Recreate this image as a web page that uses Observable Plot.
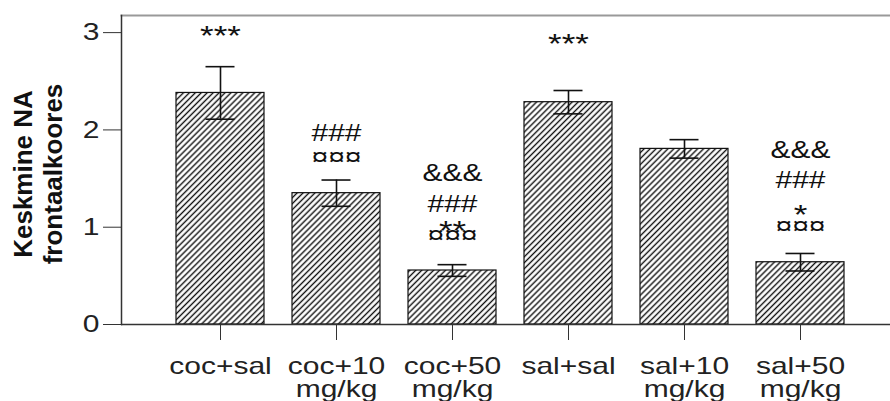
<!DOCTYPE html>
<html><head><meta charset="utf-8">
<script src="https://cdn.jsdelivr.net/npm/d3@7"></script>
<script src="https://cdn.jsdelivr.net/npm/@observablehq/plot@0.6"></script>
<style>body{margin:0;background:#fff}</style>
</head><body><div id="chart"></div>
<script>
// Data
const groups = ["coc+sal", "coc+10\nmg/kg", "coc+50\nmg/kg", "sal+sal", "sal+10\nmg/kg", "sal+50\nmg/kg"];
const means = [2.38, 1.35, 0.555, 2.285, 1.805, 0.64];
const sems = [0.27, 0.135, 0.06, 0.12, 0.095, 0.09];
const yTicks = [0, 1, 2, 3];
const yLabel = "Keskmine NA\nfrontaalkoores";
// significance marks: group index, symbol, level (in y units)
const annGroup = [0, 3, 1, 1, 2, 2, 2, 2, 5, 5, 5, 5];
const annText = ["***", "***", "###", "¤¤¤", "&&&", "###", "**", "¤¤¤", "&&&", "###", "*", "¤¤¤"];
const annLevel = [2.96, 2.88, 1.97, 1.72, 1.55, 1.24, 0.96, 0.92, 1.79, 1.48, 1.13, 1.01];

const table = groups.map((g, i) => ({group: g, mean: means[i], lo: means[i] - sems[i], hi: means[i] + sems[i]}));
const ann = annText.map((t, i) => ({group: groups[annGroup[i]], text: t, level: annLevel[i], star: t.startsWith("*")}));

const svg = Plot.plot({
  width: 890, height: 401,
  marginLeft: 121, marginRight: 0, marginTop: 15, marginBottom: 77,
  style: {fontFamily: "'Liberation Sans', Arial, sans-serif", fontSize: "24px", color: "#222", background: "#fff"},
  x: {domain: groups, range: [159.7, 859.3], paddingInner: 0.245, paddingOuter: 0.1225},
  y: {domain: [0, 3.176]},
  marks: [
    Plot.frame({anchor: "top", stroke: "#999", strokeWidth: 2}),
    Plot.barY(table, {x: "group", y: "mean", fill: "url(#hatch)", stroke: "#111", strokeWidth: 1.2}),
    Plot.ruleX(table, {x: "group", y1: "lo", y2: "hi", stroke: "#111", strokeWidth: 1.6}),
    Plot.tickY(table, {x: "group", y: "hi", insetLeft: 29.5, insetRight: 29.5, stroke: "#111", strokeWidth: 1.6}),
    Plot.tickY(table, {x: "group", y: "lo", insetLeft: 29.5, insetRight: 29.5, stroke: "#111", strokeWidth: 1.6}),
    Plot.text(ann.filter(d => !d.star), {x: "group", y: "level", text: "text", fontSize: 24, fill: "#111"}),
    Plot.text(ann.filter(d => d.star), {x: "group", y: "level", text: "text", fontSize: 28, fill: "#111"}),
    Plot.axisY({ticks: yTicks, tickFormat: d3.format("d"), tickSize: 18, tickPadding: 4, fontSize: 24, label: null, stroke: "#333"}),
    Plot.axisX({tickSize: 16, tickPadding: 17, fontSize: 24, lineHeight: 0.96, label: null, stroke: "#333"}),
    Plot.frame({anchor: "left", stroke: "#333", strokeWidth: 1.5}),
    Plot.ruleY([0], {stroke: "#333", strokeWidth: 1.5}),
    Plot.text([yLabel], {frameAnchor: "left", textAnchor: "middle", lineAnchor: "middle", text: d => d, rotate: -90, dx: -84, dy: 4, fontSize: 26, fontWeight: "bold", lineHeight: 1.15, fill: "#111"})
  ]
});

// hatch pattern
const defs = d3.select(svg).insert("defs", ":first-child");
const pat = defs.append("pattern").attr("id", "hatch").attr("patternUnits", "userSpaceOnUse")
  .attr("width", 4.2).attr("height", 4.2).attr("patternTransform", "rotate(45)");
pat.append("rect").attr("width", 4.2).attr("height", 4.2).attr("fill", "#fff");
pat.append("line").attr("x1", 2.1).attr("y1", -1).attr("x2", 2.1).attr("y2", 5.2).attr("stroke", "#111").attr("stroke-width", 1.4);

// horizontally widen non-rotated text, like the reference's stretched glyphs
d3.select(svg).selectAll("text").each(function() {
  const t = this.getAttribute("transform") || "";
  if (t.includes("rotate")) return;
  const ax = parseFloat(this.getAttribute("x") || 0);
  this.setAttribute("transform", `${t} translate(${ax},0) scale(1.25,1) translate(${-ax},0)`);
});

document.getElementById("chart").appendChild(svg);
</script>
</body></html>
